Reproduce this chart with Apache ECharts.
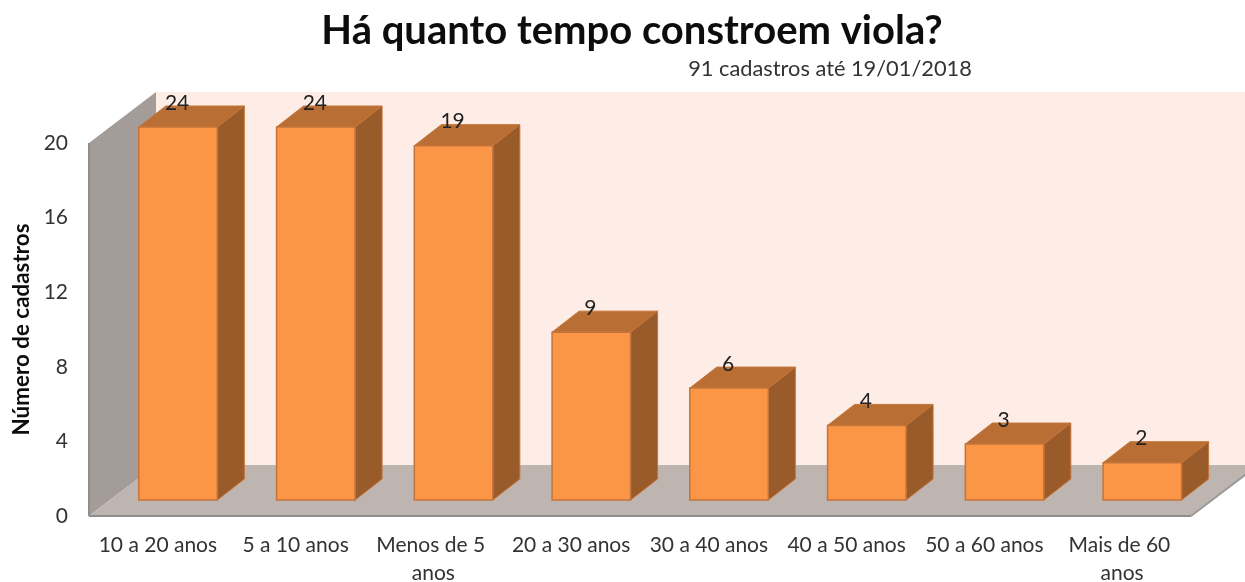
<!DOCTYPE html>
<html>
<head>
<meta charset="utf-8">
<title>Há quanto tempo constroem viola?</title>
<script src="https://cdn.jsdelivr.net/npm/echarts@6/dist/echarts.min.js"></script>
<style>
  html, body { margin: 0; padding: 0; background: #fff; }
  #chart { width: 1245px; height: 582px; }
</style>
</head>
<body>
<div id="chart"></div>
<script>
const categories = [
  '10 a 20 anos', '5 a 10 anos', 'Menos de 5 anos', '20 a 30 anos',
  '30 a 40 anos', '40 a 50 anos', '50 a 60 anos', 'Mais de 60 anos'
]
const cadastros = [24, 24, 19, 9, 6, 4, 3, 2]
const yMax = 20
const yStep = 4

const FONT = 'Lato'
// fake 3d offsets, in px
const WALL_DX = 67
const WALL_DY = 51
const BAR_SHIFT_X = 20.2
const BAR_SHIFT_Y = 16
const BAR_DX = 27
const BAR_DY = 21

function poly(points, fill, stroke, lineWidth) {
  return {
    type: 'polygon',
    shape: { points: points },
    style: { fill: fill, stroke: stroke || null, lineWidth: lineWidth || 0 }
  }
}

function renderWalls(params) {
  const r = params.coordSys
  const x0 = r.x
  const x1 = r.x + r.width
  const yTop = r.y
  const yBot = r.y + r.height
  return {
    type: 'group',
    children: [
      poly([[x0 + WALL_DX, yTop - WALL_DY], [x1 + WALL_DX, yTop - WALL_DY],
        [x1 + WALL_DX, yBot - WALL_DY], [x0 + WALL_DX, yBot - WALL_DY]], '#FEEDE6'),
      poly([[x0, yTop], [x0 + WALL_DX, yTop - WALL_DY],
        [x0 + WALL_DX, yBot - WALL_DY], [x0, yBot]], '#A39C99'),
      poly([[x0, yBot], [x1, yBot], [x1 + WALL_DX, yBot - WALL_DY],
        [x0 + WALL_DX, yBot - WALL_DY]], '#BEB4B0'),
      { type: 'line', shape: { x1: x0, y1: yBot, x2: x1, y2: yBot }, style: { stroke: '#8E8E8E', lineWidth: 2 } },
      { type: 'line', shape: { x1: x0, y1: yTop, x2: x0, y2: yBot }, style: { stroke: '#8E8E8E', lineWidth: 2 } },
      { type: 'line', shape: { x1: x1, y1: yBot, x2: x1 + WALL_DX, y2: yBot - WALL_DY }, style: { stroke: '#9A9A9A', lineWidth: 2 } }
    ]
  }
}

function renderBar(params, api) {
  const value = api.value(1)
  // the axis stops at yMax, taller bars are cut there but keep their label
  const top = api.coord([api.value(0), Math.min(value, yMax)])
  const base = api.coord([api.value(0), 0])
  const w = api.size([1, 0])[0] * 0.57
  const xl = top[0] - w / 2 + BAR_SHIFT_X
  const xr = xl + w
  const yt = top[1] - BAR_SHIFT_Y
  const yb = base[1] - BAR_SHIFT_Y
  const edge = '#C4743A'
  return {
    type: 'group',
    children: [
      poly([[xr, yt], [xr + BAR_DX, yt - BAR_DY], [xr + BAR_DX, yb - BAR_DY], [xr, yb]], '#9A5B2A', edge, 1),
      poly([[xl, yt], [xl + BAR_DX, yt - BAR_DY], [xr + BAR_DX, yt - BAR_DY], [xr, yt]], '#B96F33', edge, 1),
      { type: 'rect', shape: { x: xl, y: yt, width: w, height: yb - yt }, style: { fill: '#FA9646', stroke: edge, lineWidth: 1.5 } },
      {
        type: 'text',
        x: xl + w / 2 - 1,
        y: yt - 24,
        style: {
          text: String(value),
          fill: '#222',
          font: '21px ' + FONT,
          textAlign: 'center',
          textVerticalAlign: 'middle'
        }
      }
    ]
  }
}

const chart = echarts.init(document.getElementById('chart'), null, { renderer: 'canvas' })
chart.setOption({
  animation: false,
  backgroundColor: '#fff',
  title: [
    {
      text: 'Há quanto tempo constroem viola?',
      left: 627,
      top: 6,
      textAlign: 'center',
      textStyle: { fontFamily: FONT, fontSize: 40, fontWeight: 'bold', color: '#0d0d0d' }
    },
    {
      text: '91 cadastros até 19/01/2018',
      left: 825,
      top: 53,
      textAlign: 'center',
      textStyle: { fontFamily: FONT, fontSize: 21.8, fontWeight: 'normal', color: '#333' }
    }
  ],
  grid: { left: 89, right: 54, top: 143, bottom: 66, outerBoundsMode: 'none' },
  xAxis: {
    type: 'category',
    data: categories,
    axisLine: { show: false },
    axisTick: { show: false },
    axisLabel: {
      interval: 0,
      margin: 15,
      width: 130,
      overflow: 'break',
      lineHeight: 28,
      fontFamily: FONT,
      fontSize: 21,
      color: '#333'
    }
  },
  yAxis: {
    type: 'value',
    min: 0,
    max: yMax,
    interval: yStep,
    name: 'Número de cadastros',
    nameLocation: 'middle',
    nameGap: 54,
    nameTextStyle: { fontFamily: FONT, fontSize: 22.4, fontWeight: 'bold', color: '#0d0d0d' },
    axisLine: { show: false },
    axisTick: { show: false },
    splitLine: { show: false },
    axisLabel: { margin: 21, fontFamily: FONT, fontSize: 21, color: '#333' }
  },
  series: [
    {
      type: 'custom',
      silent: true,
      z: 1,
      renderItem: renderWalls,
      data: [0]
    },
    {
      type: 'custom',
      z: 2,
      renderItem: renderBar,
      encode: { x: 0, y: 1 },
      data: categories.map(function (c, i) { return [i, cadastros[i]] })
    }
  ]
})
</script>
</body>
</html>
